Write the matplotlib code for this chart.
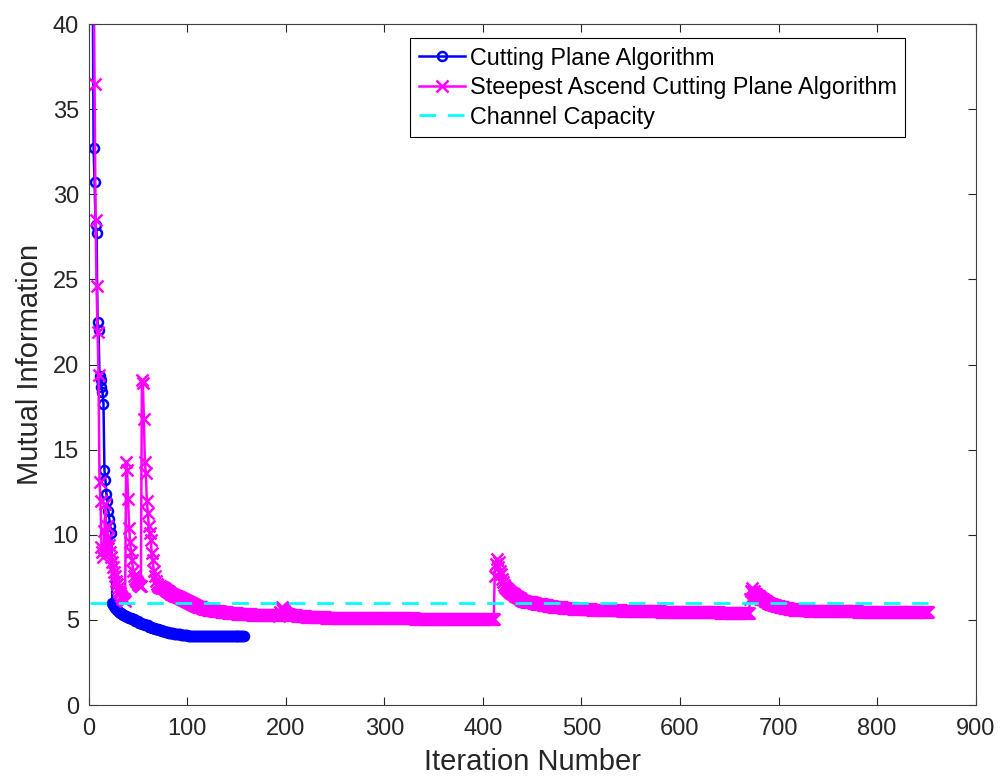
import numpy as np
import matplotlib.pyplot as plt

plt.rcParams['font.family'] = ['Liberation Sans', 'DejaVu Sans']

# Cutting plane algorithm, iterations 1-40 one by one
cp_head = [95.0, 70.0, 52.0, 44.0, 32.7, 30.7, 28.2, 27.7, 22.5, 22.0,
           19.3, 19.1, 18.7, 18.4, 17.7, 13.8, 13.2, 12.4, 12.0, 11.4,
           10.9, 10.5, 10.1, 6.00, 5.88, 5.79, 5.71, 5.64, 5.58, 5.52,
           5.47, 5.42, 5.38, 5.34, 5.30, 5.27, 5.24, 5.21, 5.18, 5.15]
# then (level, number of iterations held) up to iteration 158
cp_tail = [(5.10, 3), (5.03, 3), (4.94, 4), (4.84, 3), (4.77, 3), (4.70, 4),
           (4.60, 3), (4.53, 3), (4.46, 4), (4.39, 3), (4.35, 3), (4.30, 4),
           (4.25, 3), (4.22, 3), (4.19, 4), (4.15, 3), (4.12, 3), (4.10, 4),
           (4.08, 5), (4.06, 5), (4.05, 10), (4.04, 20), (4.03, 18)]

# Steepest ascend cutting plane algorithm, iterations 1-110 one by one
sa_head = [120.0, 90.0, 70.0, 55.0, 44.0, 36.5, 28.5, 24.6, 21.9, 19.4,
           13.1, 12.0, 9.3, 9.0, 8.7, 10.2, 11.8, 9.1, 10.5, 9.8,
           9.4, 9.0, 8.7, 8.4, 8.1, 7.8, 7.6, 7.3, 7.1, 6.9,
           6.7, 6.6, 6.4, 6.3, 6.2, 6.2, 6.1, 14.3, 13.8, 12.1,
           10.4, 9.6, 9.0, 8.5, 7.9, 7.6, 7.4, 7.3, 7.2, 7.1,
           7.05, 7.0, 7.0, 19.1, 18.9, 16.8, 14.3, 13.6, 12.0, 11.3,
           10.5, 10.1, 9.7, 8.9, 8.5, 7.9, 7.6, 7.3, 7.1, 7.0,
           6.95, 6.98, 6.90, 6.93, 6.85, 6.88, 6.80, 6.78, 6.72, 6.70,
           6.65, 6.62, 6.58, 6.55, 6.52, 6.49, 6.46, 6.43, 6.40, 6.38,
           6.35, 6.33, 6.30, 6.27, 6.24, 6.21, 6.18, 6.15, 6.12, 6.09,
           6.06, 6.03, 6.00, 5.97, 5.94, 5.91, 5.88, 5.85, 5.82, 5.80]
# then (level, number of iterations held) up to iteration 852
sa_tail = [(5.78, 2), (5.74, 2), (5.70, 2), (5.66, 2), (5.62, 2),
           (5.59, 3), (5.56, 3), (5.53, 4), (5.50, 3), (5.47, 3), (5.44, 4),
           (5.42, 3), (5.40, 4), (5.38, 3), (5.36, 5), (5.34, 5),
           (5.32, 5), (5.31, 5), (5.30, 5), (5.29, 5), (5.28, 6), (5.27, 6),
           (5.25, 1), (5.45, 1), (5.70, 1), (5.75, 1), (5.62, 1), (5.50, 1),
           (5.42, 1), (5.38, 1), (5.34, 3), (5.30, 3), (5.27, 4),
           (5.23, 5), (5.21, 5), (5.18, 10), (5.15, 10), (5.13, 15),
           (5.12, 15), (5.11, 15), (5.10, 20), (5.09, 25), (5.08, 30),
           (5.07, 40), (5.06, 11),
           (7.6, 1), (8.3, 1), (8.6, 1), (8.1, 1), (8.4, 1), (7.9, 1),
           (7.7, 1), (7.4, 1), (7.2, 1),
           (7.05, 1), (6.95, 1), (6.88, 1), (6.82, 1), (6.76, 1), (6.72, 1),
           (6.68, 1), (6.64, 1), (6.60, 1), (6.56, 1),
           (6.50, 2), (6.42, 2), (6.34, 2), (6.26, 2), (6.18, 2),
           (6.12, 3), (6.08, 3), (6.04, 4), (5.98, 3), (5.95, 3), (5.91, 4),
           (5.87, 5), (5.82, 5), (5.77, 5), (5.73, 5), (5.70, 10), (5.66, 10),
           (5.63, 10), (5.61, 10), (5.58, 10), (5.56, 10), (5.54, 10),
           (5.52, 10), (5.50, 20), (5.48, 20), (5.46, 20), (5.44, 20),
           (5.42, 20), (5.39, 10),
           (6.2, 1), (6.7, 1), (6.9, 1), (6.6, 1), (6.7, 1), (6.5, 1),
           (6.5, 1), (6.45, 1), (6.4, 1), (6.38, 1),
           (6.33, 1), (6.28, 1), (6.24, 1), (6.20, 1), (6.16, 1), (6.12, 1),
           (6.09, 1), (6.06, 1), (6.02, 1), (5.99, 1),
           (5.94, 3), (5.88, 3), (5.82, 4), (5.76, 5), (5.70, 5),
           (5.65, 5), (5.61, 5), (5.57, 10), (5.54, 10), (5.52, 20),
           (5.50, 20), (5.48, 20), (5.46, 30), (5.45, 22)]

capacity = 5.99


def expand(head, tail):
    vals = list(head)
    for level, n in tail:
        vals += [level] * n
    return np.array(vals)


cp = expand(cp_head, cp_tail)
sa = expand(sa_head, sa_tail)
it_cp = np.arange(1, len(cp) + 1)
it_sa = np.arange(1, len(sa) + 1)

fig = plt.figure(figsize=(10.02, 7.83), dpi=100)
ax = fig.add_axes([0.0885, 0.0996, 0.8852, 0.8697])

ax.plot(it_cp, cp, '-o', color='#0000ff', lw=1.8, ms=6.5, mfc='none', mew=1.8,
        label='Cutting Plane Algorithm')
ax.plot(it_sa, sa, '-x', color='#ff00ff', lw=1.8, ms=8, mew=1.8,
        label='Steepest Ascend Cutting Plane Algorithm')
ax.plot([it_sa[0], it_sa[-1]], [capacity, capacity], '--', color='#00ffff', lw=2,
        dashes=(6, 4.2), label='Channel Capacity')

ax.set_xlim(0, 900)
ax.set_ylim(0, 40)
ax.set_xticks(range(0, 901, 100))
ax.set_yticks(range(0, 41, 5))
ax.tick_params(direction='in', length=6, width=0.8, top=True, right=True,
               labelsize=17, colors='#262626', pad=7)
ax.tick_params(axis='x', pad=9)
for sp in ax.spines.values():
    sp.set_color('#404040')
    sp.set_linewidth(0.8)

ax.set_xlabel('Iteration Number', fontsize=21, color='#262626', labelpad=6)
ax.set_ylabel('Mutual Information', fontsize=21, color='#262626', labelpad=6)

leg = ax.legend(loc='upper right', bbox_to_anchor=(0.9203, 0.979), borderaxespad=0,
                fontsize=16.8, fancybox=False, framealpha=1, edgecolor='black',
                handlelength=2.0, handletextpad=0.2, borderpad=0.35,
                labelspacing=0.28, numpoints=1)
leg.get_frame().set_linewidth(0.8)

fig.savefig('out.png', dpi=100)
